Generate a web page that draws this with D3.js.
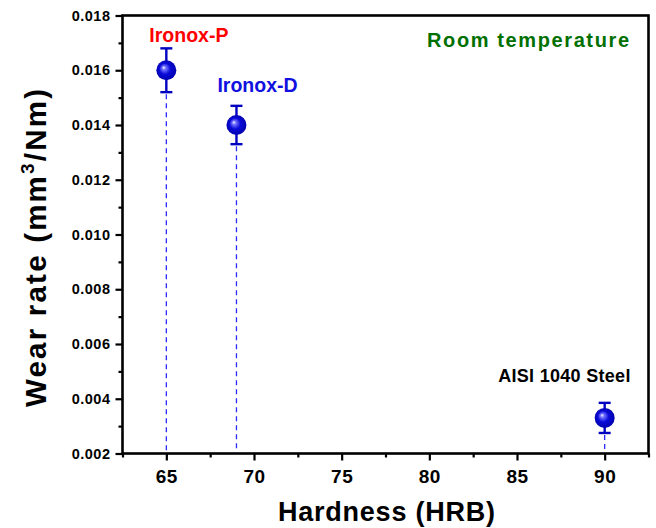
<!DOCTYPE html>
<html>
<head>
<meta charset="utf-8">
<script src="https://cdn.jsdelivr.net/npm/d3@7"></script>
<style>
  html, body { margin: 0; padding: 0; background: #fff; }
  svg { display: block; font-family: Arial, "Liberation Sans", sans-serif; }
</style>
</head>
<body>
<svg id="chart" width="656" height="528"></svg>
<script>
// Wear rate versus hardness for the three materials
const materials = ["Ironox-P", "Ironox-D", "AISI 1040 Steel"];
const hardness = [65, 69, 90];
const wearRate = [0.0160, 0.0140, 0.0033];
const wearErr = [0.0008, 0.0007, 0.00055];
const labelColors = ["#ff0000", "#1010e0", "#000000"];

const xTicks = [65, 70, 75, 80, 85, 90];
const xMinorTicks = [62.5, 67.5, 72.5, 77.5, 82.5, 87.5, 92.5];
const yTicks = [0.002, 0.004, 0.006, 0.008, 0.010, 0.012, 0.014, 0.016, 0.018];
const yMinorTicks = [0.003, 0.005, 0.007, 0.009, 0.011, 0.013, 0.015, 0.017];

const svg = d3.select("#chart");
const plotLeft = 122.5, plotRight = 648.5, plotTop = 15.5, plotBottom = 453.5;

const x = d3.scaleLinear().domain([62.5, 92.5]).range([plotLeft, plotRight]);
const y = d3.scaleLinear().domain([0.002, 0.018]).range([plotBottom, plotTop]);

// sphere-like marker fill
const defs = svg.append("defs");
const grad = defs.append("radialGradient")
  .attr("id", "ball").attr("cx", "0.5").attr("cy", "0.5").attr("r", "0.55")
  .attr("fx", "0.36").attr("fy", "0.36");
grad.append("stop").attr("offset", "0").attr("stop-color", "#f4f4ff");
grad.append("stop").attr("offset", "0.18").attr("stop-color", "#7070ff");
grad.append("stop").attr("offset", "0.5").attr("stop-color", "#0a0ad8");
grad.append("stop").attr("offset", "1").attr("stop-color", "#0000a8");

// axes: major and minor ticks on left and bottom
const xAxis = d3.axisBottom(x).tickValues(xTicks).tickSize(7).tickPadding(9)
  .tickFormat(d3.format("d"));
const xMinor = d3.axisBottom(x).tickValues(xMinorTicks).tickSize(4).tickFormat("");
const yAxis = d3.axisLeft(y).tickValues(yTicks).tickSize(7).tickPadding(5)
  .tickFormat(d3.format(".3f"));
const yMinor = d3.axisLeft(y).tickValues(yMinorTicks).tickSize(4).tickFormat("");

function styleAxis(g, fontSize) {
  g.select(".domain").remove();
  g.selectAll(".tick line").attr("stroke", "#000").attr("stroke-width", 2.2);
  g.selectAll(".tick text").attr("fill", "#000").attr("font-weight", "bold")
    .attr("font-size", fontSize).attr("font-family", "Arial, 'Liberation Sans', sans-serif");
}

const gx = svg.append("g").attr("transform", `translate(0,${plotBottom})`).call(xAxis);
styleAxis(gx, 19);
gx.selectAll(".tick text").attr("letter-spacing", "0.5px");
const gxm = svg.append("g").attr("transform", `translate(0,${plotBottom})`).call(xMinor);
styleAxis(gxm, 19);
const gy = svg.append("g").attr("transform", `translate(${plotLeft},0)`).call(yAxis);
styleAxis(gy, 14.5);
gy.selectAll(".tick text").attr("letter-spacing", "0.5px");
const gym = svg.append("g").attr("transform", `translate(${plotLeft},0)`).call(yMinor);
styleAxis(gym, 14);

// plot frame
svg.append("rect")
  .attr("x", plotLeft).attr("y", plotTop)
  .attr("width", plotRight - plotLeft).attr("height", plotBottom - plotTop)
  .attr("fill", "none").attr("stroke", "#000").attr("stroke-width", 2.6);

const idx = d3.range(hardness.length);

// dashed drop lines to the hardness axis
svg.append("g").selectAll("line").data(idx).join("line")
  .attr("x1", i => x(hardness[i])).attr("x2", i => x(hardness[i]))
  .attr("y1", i => y(wearRate[i] - wearErr[i]) + 2)
  .attr("y2", plotBottom - 1)
  .attr("stroke", "#2a2aff").attr("stroke-width", 1.3)
  .attr("stroke-dasharray", "5,4");

// error bars
const eb = svg.append("g").attr("stroke", "#0000c0").attr("stroke-width", 2.4);
eb.selectAll("line.v").data(idx).join("line").attr("class", "v")
  .attr("x1", i => x(hardness[i])).attr("x2", i => x(hardness[i]))
  .attr("y1", i => y(wearRate[i] + wearErr[i]))
  .attr("y2", i => y(wearRate[i] - wearErr[i]));
eb.selectAll("line.t").data(idx).join("line").attr("class", "t")
  .attr("x1", i => x(hardness[i]) - 6).attr("x2", i => x(hardness[i]) + 6)
  .attr("y1", i => y(wearRate[i] + wearErr[i]))
  .attr("y2", i => y(wearRate[i] + wearErr[i]));
eb.selectAll("line.b").data(idx).join("line").attr("class", "b")
  .attr("x1", i => x(hardness[i]) - 6).attr("x2", i => x(hardness[i]) + 6)
  .attr("y1", i => y(wearRate[i] - wearErr[i]))
  .attr("y2", i => y(wearRate[i] - wearErr[i]));

// markers
svg.append("g").selectAll("circle").data(idx).join("circle")
  .attr("cx", i => x(hardness[i])).attr("cy", i => y(wearRate[i]))
  .attr("r", 10).attr("fill", "url(#ball)");

// material labels
const labelOffsets = [[-17, -28.5], [-19, -33.5], [-106.5, -35.6]];
svg.append("g").selectAll("text").data(idx).join("text")
  .attr("x", i => x(hardness[i]) + labelOffsets[i][0])
  .attr("y", i => y(wearRate[i]) + labelOffsets[i][1])
  .attr("fill", i => labelColors[i])
  .attr("font-size", i => i === 2 ? 18 : 19.5)
  .attr("font-weight", "bold")
  .attr("letter-spacing", i => i === 2 ? "0.3px" : "0px")
  .text(i => materials[i]);

// condition note
svg.append("text")
  .attr("x", 427).attr("y", 47)
  .attr("fill", "#007000").attr("font-size", 20).attr("font-weight", "bold")
  .attr("textLength", 202).attr("lengthAdjust", "spacing")
  .text("Room temperature");

// axis titles
svg.append("text")
  .attr("x", 278).attr("y", 521)
  .attr("font-size", 27).attr("font-weight", "bold").attr("fill", "#000")
  .attr("textLength", 217).attr("lengthAdjust", "spacing")
  .text("Hardness (HRB)");

const yt = svg.append("text")
  .attr("transform", "translate(46,407) rotate(-90)")
  .attr("font-size", 29.5).attr("font-weight", "bold").attr("fill", "#000")
  .attr("textLength", 318).attr("lengthAdjust", "spacing");
yt.append("tspan").text("Wear rate (mm");
yt.append("tspan").attr("font-size", 19).attr("dy", -12).text("3");
yt.append("tspan").attr("dy", 12).text("/Nm)");
</script>
</body>
</html>
